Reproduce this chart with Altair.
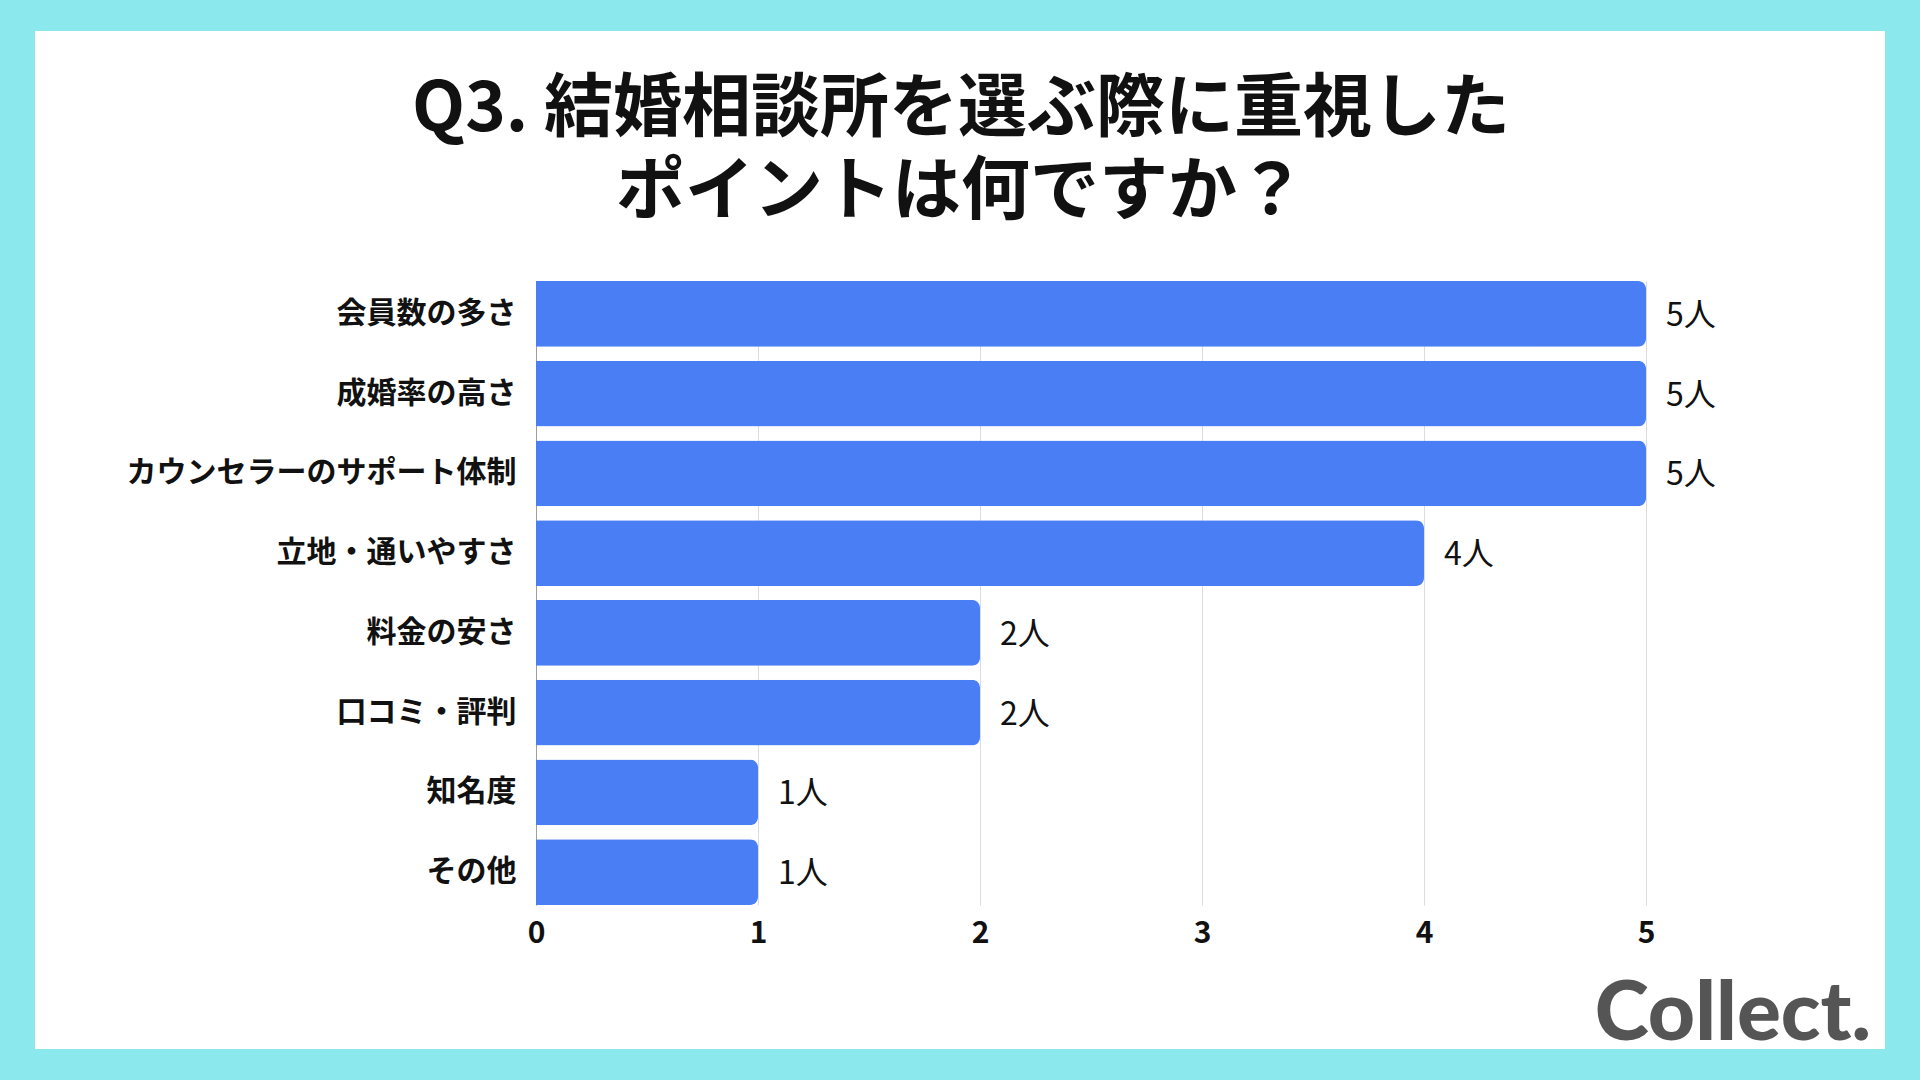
import altair as alt
import pandas as pd

categories = ["会員数の多さ", "成婚率の高さ", "カウンセラーのサポート体制", "立地・通いやすさ",
              "料金の安さ", "口コミ・評判", "知名度", "その他"]
counts = [5, 5, 5, 4, 2, 2, 1, 1]
x_ticks = [0, 1, 2, 3, 4, 5]
title_lines = ["Q3. 結婚相談所を選ぶ際に重視した", "ポイントは何ですか？"]
logo_text = "Collect."
unit = "人"

FONT = "Noto Sans CJK JP"
BAR = "#4A7EF5"
CYAN = "#8BE9ED"

# layout (canvas px)
PL, PT = 536, 281
W, H = 1110, 624
PR, PB = 1920 - PL - W, 1080 - PT - H

df = pd.DataFrame({"item": categories, "count": counts})

base = alt.Chart(df).encode(
    y=alt.Y("item:N", sort=categories,
            scale=alt.Scale(paddingInner=0.175, paddingOuter=0),
            axis=alt.Axis(title=None, ticks=False, labelFont=FONT, labelFontSize=30,
                          labelFontWeight="bold", labelColor="#111111", labelPadding=20,
                          labelLimit=600,
                          domain=True, domainColor="#9E9E9E", domainWidth=1, grid=False)),
)

bars = base.mark_bar(color=BAR, cornerRadiusEnd=8).encode(
    x=alt.X("count:Q", scale=alt.Scale(domain=[0, 5], nice=False),
            axis=alt.Axis(title=None, values=x_ticks, format="d", ticks=False, domain=False,
                          grid=True, gridColor="#DADCE0", gridWidth=1, labelFlush=False,
                          labelFont=FONT, labelFontSize=30, labelFontWeight="bold",
                          labelColor="#111111", labelPadding=13)),
)

labels = base.mark_text(align="left", baseline="middle", dx=20, dy=2, font=FONT,
                        fontSize=32, color="#111111").transform_calculate(
    label="datum.count + '" + unit + "'"
).encode(x="count:Q", text="label:N")

title_layers = []
for i, line in enumerate(title_lines):
    title_layers.append(
        alt.Chart(pd.DataFrame({"t": [line]})).mark_text(
            font=FONT, fontSize=69, fontWeight="bold", color="#111111",
            align="center", baseline="middle"
        ).encode(x=alt.value(961 - PL), y=alt.value(110 + 83 * i - PT), text="t:N")
    )

logo = alt.Chart(pd.DataFrame({"t": [logo_text]})).mark_text(
    font="Lato", fontSize=82, fontWeight=900, color="#555555",
    align="right", baseline="alphabetic"
).encode(x=alt.value(1871 - PL), y=alt.value(1040 - PT), text="t:N")

border = alt.Chart(pd.DataFrame({"b": [0]})).mark_rect(
    fill="transparent", stroke=CYAN, strokeWidth=70
).encode(x=alt.value(0 - PL), x2=alt.value(1920 - PL),
         y=alt.value(-4 - PT), y2=alt.value(1084 - PT))

chart = alt.layer(bars, labels, *title_layers, logo, border).properties(
    width=W, height=H,
    autosize=alt.AutoSizeParams(type="none"),
    padding={"left": PL, "top": PT, "right": PR, "bottom": PB},
    background="white",
).configure_view(stroke=None)

chart.save("out.html", embed_options={"renderer": "svg", "actions": False})
